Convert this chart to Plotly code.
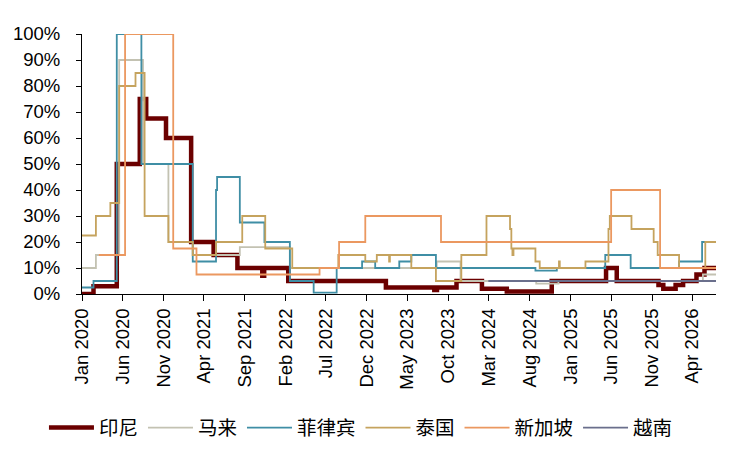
import plotly.graph_objects as go

# step series (date of change, level in %)
END = "2026-06-28"

indonesia_dates = ["2020-01-01", "2020-02-13", "2020-05-10", "2020-08-04", "2020-08-28",
                   "2020-11-10", "2021-02-12", "2021-05-07", "2021-08-04", "2021-11-05",
                   "2021-11-12", "2022-02-10", "2023-02-10", "2023-08-10", "2023-08-20",
                   "2023-11-01", "2024-02-04", "2024-05-07", "2024-10-22", "2025-05-13",
                   "2025-06-22", "2025-11-25", "2025-12-13", "2026-01-28", "2026-02-25",
                   "2026-04-16", "2026-05-16", END]
indonesia_vals = [0, 3, 50, 75, 67.5,
                  60, 20, 15, 10, 7,
                  10, 5, 2.5, 1.5, 2.5,
                  5, 2, 1, 5, 10,
                  5, 3.5, 2, 3.5, 5,
                  7.5, 10, 10]

malaysia_dates = ["2020-01-01", "2020-02-22", "2020-05-19", "2020-08-16", "2020-11-19",
                  "2021-02-18", "2021-08-13", "2022-02-16", "2023-08-19", "2023-11-16",
                  "2024-08-25", "2024-11-16", "2026-05-10", END]
malaysia_vals = [10, 15, 90, 50, 20,
                 15, 18, 10, 12.5, 5,
                 4, 5, 7.5, 7.5]

philippines_dates = ["2020-01-01", "2020-02-13", "2020-05-10", "2020-08-10", "2021-02-18",
                     "2021-05-16", "2021-05-20", "2021-08-13", "2021-11-13", "2022-02-16",
                     "2022-05-16", "2022-08-10", "2022-11-13", "2023-01-01", "2023-04-01",
                     "2023-05-16", "2023-08-16", "2024-08-22", "2024-11-10", "2025-05-10",
                     "2025-08-13", "2026-02-10", "2026-05-07", END]
philippines_vals = [2.5, 5, 100, 50, 12.5,
                    40, 45, 27.5, 20, 5,
                    0.5, 10, 12.5, 10, 12.5,
                    15, 10, 9, 10, 15,
                    10, 12.5, 20, 20]

thailand_dates = ["2020-01-01", "2020-02-22", "2020-04-16", "2020-05-19", "2020-07-19",
                  "2020-08-22", "2020-11-19", "2021-02-18", "2021-05-16", "2021-08-22",
                  "2021-11-16", "2022-02-25", "2022-08-16", "2022-11-25", "2023-01-07",
                  "2023-02-22", "2023-02-25", "2023-05-16", "2023-08-16", "2023-11-19",
                  "2024-02-21", "2024-05-19", "2024-05-24", "2024-05-28", "2024-06-01",
                  "2024-08-22", "2024-09-07", "2024-11-18", "2024-11-21", "2025-02-25",
                  "2025-05-22", "2025-05-27", "2025-08-16", "2025-11-07", "2025-11-22",
                  "2026-02-10", "2026-05-19", END]
thailand_vals = [22.5, 30, 35, 80, 85,
                 30, 20, 15, 20, 30,
                 17.5, 10, 15, 12.5, 15,
                 12.5, 15, 10, 5, 15,
                 30, 25, 17.5, 15, 17.5,
                 12.5, 10, 12.5, 10, 12.5,
                 25, 30, 25, 20, 15,
                 10, 20, 20]

singapore_dates = ["2020-03-04", "2020-06-10", "2020-12-07", "2021-03-04", "2022-06-07",
                   "2022-08-19", "2022-11-25", "2023-09-04", "2025-06-01", "2025-12-01", END]
singapore_vals = [15, 100, 17.5, 7.5, 10,
                  20, 30, 20, 40, 10, 10]

vietnam_dates = ["2024-02-28", END]
vietnam_vals = [5, 5]

series = [
    ("印尼", indonesia_dates, indonesia_vals, "#6b0000", 4.5),
    ("马来", malaysia_dates, malaysia_vals, "#c3c2b2", 1.8),
    ("菲律宾", philippines_dates, philippines_vals, "#3f8ea5", 1.8),
    ("泰国", thailand_dates, thailand_vals, "#c5a35e", 1.8),
    ("新加坡", singapore_dates, singapore_vals, "#eb9860", 1.8),
    ("越南", vietnam_dates, vietnam_vals, "#6a6f8c", 1.8),
]

fig = go.Figure()
for name, d, v, c, w in series:
    fig.add_trace(go.Scatter(x=d, y=v, name=name, mode="lines",
                             line=dict(color=c, width=w, shape="hv")))

font = "Liberation Sans, Arial, sans-serif"

# page body keeps its default 8px margin, so the figure is sized to fit inside it
fig.update_layout(
    width=719, height=434,
    margin=dict(l=74, r=11, t=26, b=148, autoexpand=False),
    paper_bgcolor="#FFFFFF",
    plot_bgcolor="#FFFFFF",
    font=dict(family=font, size=18.5, color="#000000"),
    showlegend=True,
    legend=dict(
        orientation="h",
        x=-0.06, xanchor="left",
        y=-0.515, yanchor="middle",
        font=dict(family="Noto Sans CJK SC", size=19.5, color="#000000"),
        itemwidth=45,
        tracegroupgap=0,
    ),
)

fig.update_xaxes(
    range=["2020-01-01", END],
    tick0="2020-01-01", dtick="M5", tickformat="%b %Y",
    tickangle=-90,
    ticks="outside", ticklen=6, tickcolor="#000000",
    showline=True, linecolor="#000000", linewidth=1,
    showgrid=False, zeroline=False,
)
fig.update_yaxes(
    range=[0, 100], dtick=10, ticksuffix="%",
    ticks="outside", ticklen=5, tickcolor="#000000",
    showline=True, linecolor="#000000", linewidth=1,
    showgrid=False, zeroline=False,
    ticklabelstandoff=12,
)

fig.write_html("out.html")
